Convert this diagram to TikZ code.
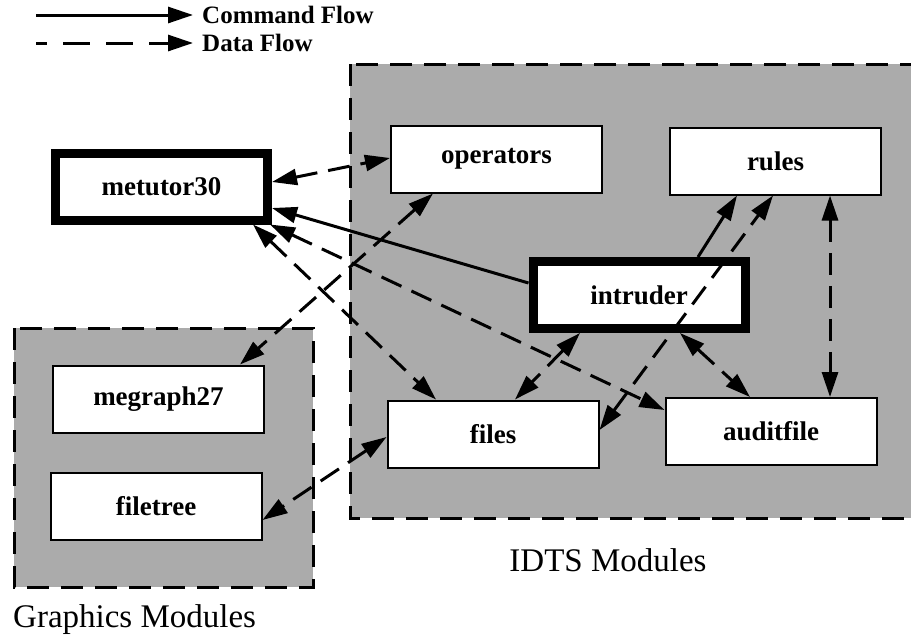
\documentclass[tikz,border=0pt]{standalone}
\usepackage{fontspec}
\setmainfont{Liberation Serif}
\usetikzlibrary{arrows.meta,calc}
\begin{document}
\begin{tikzpicture}[x=1pt,y=-1pt,
  region/.style={fill=black!33, draw=black, line width=3pt, dash pattern=on 22pt off 12pt},
  box/.style={draw=black, fill=white, line width=2pt, outer sep=1pt, inner sep=0pt,
    minimum width=211pt, minimum height=67pt, font=\fontsize{27}{30}\selectfont\bfseries},
  mainbox/.style={box, line width=9pt, outer sep=4.5pt, minimum width=212pt, minimum height=67pt},
  cmd/.style={line width=3pt, -{Triangle[length=25pt,width=16pt]}},
  data/.style={line width=3pt, dash pattern=on 22pt off 11pt,
    {Triangle[length=25pt,width=16pt]}-{Triangle[length=25pt,width=16pt]}},
  legendtext/.style={inner sep=0pt, inner xsep=9pt, anchor=west, font=\fontsize{25}{28}\selectfont\bfseries},
  lbl/.style={inner sep=0pt, font=\fontsize{33}{36}\selectfont}
]
\useasboundingbox (0,0) rectangle (911,643);
\clip (0,0) rectangle (911,643);

% regions
\path[region] (350,64) rectangle (930,518);
\path[region] (14,328) rectangle (313,587);

% modules
\node[mainbox] (met) at (161.5,186.5) {metutor30};
\node[mainbox] (intr) at (639,295) {intruder};
\node[box] (ops) at (496.5,159) {operators};
\node[box] (rules) at (775.5,161) {rules};
\node[box] (files) at (493,434) {files};
\node[box] (audit) at (771,431.5) {auditfile};
\node[box] (megr) at (158.5,399) {megraph27};
\node[box] (ftree) at (156,506.5) {filetree};

% connectors
\draw[data] ($(met.east)+(0,-4.5)$) -- ($(ops.west)+(0,-1)$);
\draw[cmd] ($(intr.west)+(0,-12)$) -- ($(met.east)+(0,21.5)$);
\draw[data] ($(met.south)+(91.5,0)$) -- ($(files.north)+(-57,0)$);
\draw[data] ($(met.south east)+(-2,0)$) -- ($(audit.west)+(0,-21.5)$);
\draw[data] ($(ops.south)+(-63.5,0)$) -- ($(megr.north)+(81.5,0)$);
\draw[data] ($(intr.south)+(-59,0)$) -- ($(files.north)+(22,0)$);
\draw[cmd] ($(intr.north)+(59,0)$) -- ($(rules.south)+(-38.5,0)$);
\draw[data] ($(files.east)+(0,-4)$) -- ($(rules.south)+(-2.5,0)$);
\draw[data] ($(intr.south)+(41,0)$) -- ($(audit.north)+(-21,0)$);
\draw[data] ($(rules.south)+(54.5,0)$) -- ($(audit.north)+(59,0)$);
\draw[data] ($(files.west)+(0,3)$) -- ($(ftree.east)+(0,13.5)$);

% legend
\coordinate (cs) at (36,15);
\node[legendtext] (ct) at (193,15) {Command Flow};
\draw[cmd] (cs) -- (ct.west);
\coordinate (ds) at (36,43);
\node[legendtext] (dt) at (193,43) {Data Flow};
\draw[line width=3pt, dash pattern=on 27pt off 16pt, dash phase=16pt,
  -{Triangle[length=25pt,width=16pt]}] (ds) -- (dt.west);

% region labels
\node[lbl, anchor=base] (idtsl) at (608,571) {IDTS Modules};
\node[lbl, anchor=base west] (gml) at (13,627) {Graphics Modules};
\end{tikzpicture}
\end{document}
